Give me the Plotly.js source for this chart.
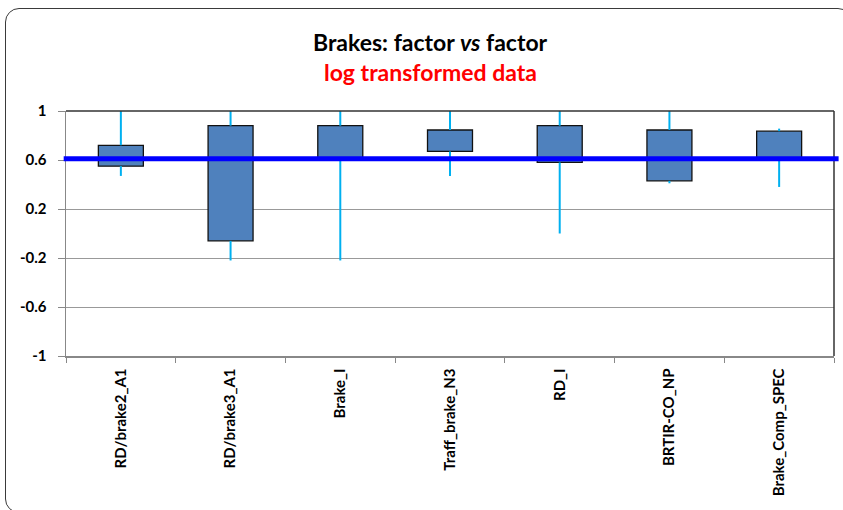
<!DOCTYPE html>
<html lang="en">
<head>
    <meta charset="UTF-8">
    <title>Brakes: factor vs factor</title>
    <script src="https://cdn.plot.ly/plotly-3.0.1.min.js"></script>
    <style>
        body { margin: 0; padding: 0; background: #fff; }
        #wrap { position: relative; width: 843px; height: 510px; overflow: hidden; }
        #plot { position: absolute; left: 0; top: 0; width: 843px; height: 510px; }
        #frame {
            position: absolute; left: 5px; top: 8px; width: 845px; height: 503px;
            border: 1.5px solid #3a3a3a; border-radius: 14px; pointer-events: none;
        }
    </style>
</head>
<body>
<div id="wrap">
    <div id="plot"></div>
    <div id="frame"></div>
</div>
<script>
    // categories and values
    const factors = ['RD/brake2_A1', 'RD/brake3_A1', 'Brake_I', 'Traff_brake_N3', 'RD_I', 'BRTIR-CO_NP', 'Brake_Comp_SPEC'];
    const boxLow  = [0.55, -0.06, 0.61, 0.67, 0.58, 0.43, 0.61];
    const boxHigh = [0.72,  0.88, 0.88, 0.845, 0.88, 0.845, 0.835];
    const whiskMin = [0.47, -0.22, -0.22, 0.47, 0.00, 0.41, 0.38];
    const whiskMax = [1.0,   1.0,   1.0,  1.0,  1.0,  1.0,  0.856];
    const refLevel = 0.61;

    const yTickVals = [1, 0.6, 0.2, -0.2, -0.6, -1];
    const yTickText = ['1', '0.6', '0.2', '-0.2', '-0.6', '-1'];

    // whiskers: two segments per factor, outside the box
    const wx = [], wy = [];
    factors.forEach((f, i) => {
        wx.push(f, f, null, f, f, null);
        wy.push(whiskMax[i], boxHigh[i], null, boxLow[i], whiskMin[i], null);
    });

    const whiskers = {
        type: 'scatter', mode: 'lines', x: wx, y: wy,
        line: { color: '#00B0F0', width: 2 },
        connectgaps: false, hoverinfo: 'skip', showlegend: false
    };

    const boxes = {
        type: 'bar', x: factors,
        base: boxLow,
        y: boxHigh.map((h, i) => h - boxLow[i]),
        width: 0.41,
        marker: { color: '#4F81BD', line: { color: '#111', width: 1.3 } },
        showlegend: false
    };

    const layout = {
        width: 843, height: 510,
        margin: { l: 66, r: 9, t: 111, b: 154 },
        paper_bgcolor: 'rgba(0,0,0,0)',
        plot_bgcolor: '#fff',
        font: { family: 'Lato, "Open Sans", sans-serif', color: '#000' },
        showlegend: false,
        xaxis: {
            type: 'category',
            tickson: 'boundaries',
            ticks: 'outside', ticklen: 5, tickcolor: '#888',
            showline: true, linecolor: '#888', linewidth: 1.5,
            showgrid: false,
            tickangle: -90,
            ticklabelstandoff: 5,
            tickfont: { size: 15, family: 'Lato, sans-serif', weight: 'bold' },
            fixedrange: true
        },
        yaxis: {
            range: [-1, 1],
            tickvals: yTickVals, ticktext: yTickText,
            ticks: 'outside', ticklen: 7, tickcolor: '#888',
            showline: true, linecolor: '#888', linewidth: 1.5,
            showgrid: true, gridcolor: '#999', gridwidth: 1,
            zeroline: false,
            ticklabelstandoff: 8,
            tickfont: { size: 15, family: 'Lato, sans-serif', weight: 'bold' },
            fixedrange: true
        },
        shapes: [
            // Excel-style darker top and right plot border
            { type: 'line', xref: 'paper', yref: 'paper', x0: 0, x1: 1, y0: 1, y1: 1,
              line: { color: '#333', width: 1.5 } },
            { type: 'line', xref: 'paper', yref: 'paper', x0: 1, x1: 1, y0: 0, y1: 1,
              line: { color: '#333', width: 1.5 } },
            // reference level
            { type: 'line', xref: 'paper', yref: 'y', x0: -0.003, x1: 1.006,
              y0: refLevel, y1: refLevel, layer: 'above',
              line: { color: '#0000FF', width: 5 } }
        ],
        annotations: [
            { text: 'Brakes: factor <i>vs</i> factor', xref: 'paper', yref: 'paper',
              x: 0.475, y: 1.0, yshift: 69, yanchor: 'middle', showarrow: false,
              font: { size: 23, family: 'Lato, sans-serif', weight: 'bold', color: '#000' } },
            { text: 'log transformed data', xref: 'paper', yref: 'paper',
              x: 0.475, y: 1.0, yshift: 39, yanchor: 'middle', showarrow: false,
              font: { size: 23, family: 'Lato, sans-serif', weight: 'bold', color: '#FF0000' } }
        ]
    };

    Plotly.newPlot('plot', [whiskers, boxes], layout, { displayModeBar: false, staticPlot: true });
</script>
</body>
</html>
